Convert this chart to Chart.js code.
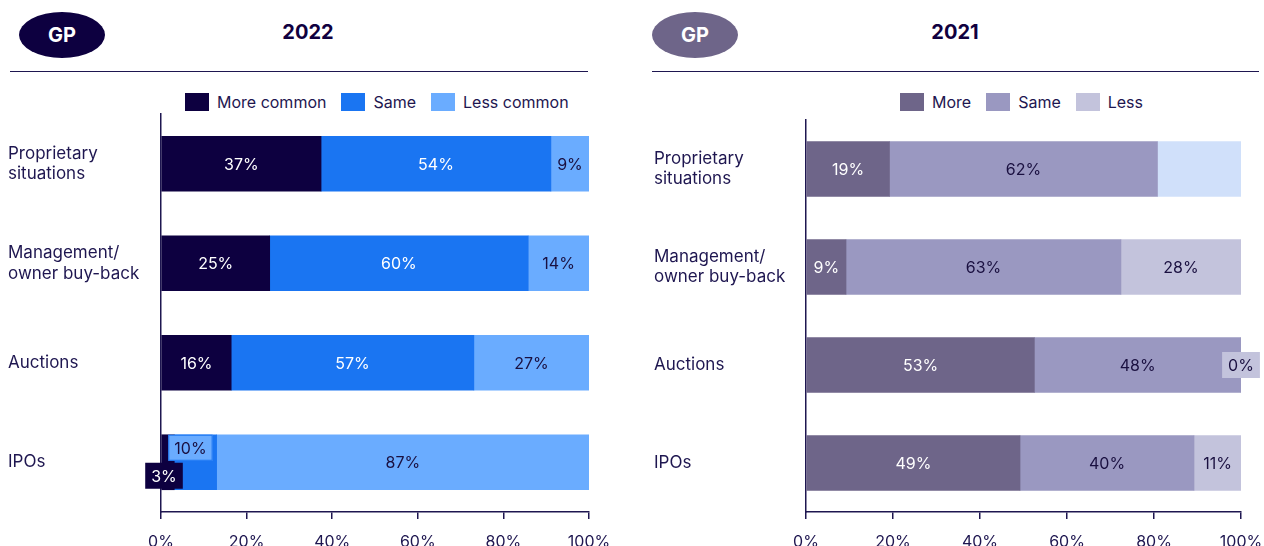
<!DOCTYPE html>
<html>
<head>
<meta charset="utf-8">
<script src="https://cdn.jsdelivr.net/npm/chart.js@4/dist/chart.umd.min.js"></script>
<style>
    body { margin: 0; background: #fff; font-family: Inter, 'Open Sans', sans-serif; color: #1e1650; }
    #page { position: relative; width: 1264px; height: 546px; overflow: hidden; }
    .pill { position: absolute; top: 12px; width: 86px; height: 46px; border-radius: 50%; color: #fff;
            font-weight: 700; font-size: 20px; display: flex; align-items: center; justify-content: center; }
    .title { position: absolute; top: 20px; font-weight: 700; font-size: 20px; color: #10003f; transform: translateX(-50%); }
    .rule { position: absolute; top: 71px; height: 0; border-top: 1.5px solid #1e1650; }
    .legend { position: absolute; top: 92px; display: flex; align-items: center; font-size: 16px; color: #1e1650; }
    .legend span.box { display: inline-block; width: 24px; height: 18px; margin-right: 8px; }
    .legend span.item { display: flex; align-items: center; margin-right: 15px; }
    .chart { position: absolute; top: 0; height: 546px; }
</style>
</head>
<body>
<div id="page">
    <div class="pill" style="left:19px; background:#0d0040;">GP</div>
    <div class="title" style="left:308px;">2022</div>
    <div class="rule" style="left:10px; width:578px;"></div>
    <div class="legend" id="legend-2022" style="left:185px;"></div>
    <div class="chart" style="left:0; width:620px;"><canvas id="chart2022"></canvas></div>

    <div class="pill" style="left:652px; background:#6e6589;">GP</div>
    <div class="title" style="left:955px;">2021</div>
    <div class="rule" style="left:652px; width:607px;"></div>
    <div class="legend" id="legend-2021" style="left:900px;"></div>
    <div class="chart" style="left:640px; width:624px;"><canvas id="chart2021"></canvas></div>
</div>

<script>
// Categories (shared)
const categories = [
    ['Proprietary', 'situations'],
    ['Management/', 'owner buy-back'],
    'Auctions',
    'IPOs'
];
const xTicks = [0, 20, 40, 60, 80, 100];

// 2022 survey (share of respondents, %; labels show rounded values)
const series2022 = ['More common', 'Same', 'Less common'];
const more2022 = [37.4, 25.4, 16.4, 3.1];
const same2022 = [53.7, 60.4, 56.7, 9.9];
const less2022 = [8.9, 14.2, 26.9, 87];

// 2021 survey
const series2021 = ['More', 'Same', 'Less'];
const more2021 = [19.2, 9.2, 52.5, 49.2];
const same2021 = [61.6, 63.2, 47.5, 40.0];
const less2021 = [19.2, 27.6, 0, 10.8];

const NAVY = '#1e1650';
const TEXT_DARK = '#1a1040';

// draws the % labels on the bars, with a few boxed / shifted ones
const barLabels = {
    id: 'barLabels',
    afterDatasetsDraw(chart, args, opts) {
        const ctx = chart.ctx;
        const area = chart.chartArea;
        ctx.save();
        ctx.font = '16px Inter, "Open Sans", sans-serif';
        ctx.textAlign = 'center';
        ctx.textBaseline = 'middle';
        chart.data.datasets.forEach((ds, di) => {
            const meta = chart.getDatasetMeta(di);
            meta.data.forEach((bar, i) => {
                const key = di + ':' + i;
                if (opts.hide && opts.hide.includes(key)) return;
                const text = Math.round(ds.data[i]) + '%';
                let x = (Math.min(bar.x, area.right) + Math.min(bar.base, area.right)) / 2;
                let y = bar.y;
                const sp = opts.special && opts.special[key];
                if (sp) {
                    x += sp.dx || 0;
                    y += sp.dy || 0;
                    const w = ctx.measureText(text).width + 12;
                    const h = 26;
                    ctx.fillStyle = sp.fill;
                    ctx.fillRect(x - w / 2, y - h / 2, w, h);
                    if (sp.stroke) {
                        ctx.strokeStyle = sp.stroke;
                        ctx.lineWidth = 1;
                        ctx.strokeRect(x - w / 2 + 0.5, y - h / 2 + 0.5, w - 1, h - 1);
                    }
                }
                ctx.fillStyle = (sp && sp.color) || opts.colors[di];
                ctx.fillText(text, x, y + 1);
            });
        });
        ctx.restore();
    }
};

function buildLegend(el, names, colors) {
    el.innerHTML = names.map((n, i) =>
        `<span class="item"><span class="box" style="background:${colors[i]}"></span>${n}</span>`
    ).join('');
}

function makeChart(canvasId, names, values, colors, opts) {
    const ctx = document.getElementById(canvasId).getContext('2d');
    return new Chart(ctx, {
        type: 'bar',
        data: {
            labels: categories,
            datasets: names.map((n, i) => ({
                label: n,
                data: values[i],
                backgroundColor: opts.barColors ? opts.barColors[i] : colors[i],
                borderWidth: 0,
                barThickness: 55
            }))
        },
        options: {
            indexAxis: 'y',
            responsive: true,
            maintainAspectRatio: false,
            animation: false,
            layout: { padding: { top: opts.top, left: opts.left, right: opts.right, bottom: 0 } },
            plugins: {
                legend: { display: false },
                tooltip: { enabled: false },
                barLabels: { colors: opts.labelColors, special: opts.special, hide: opts.hide }
            },
            scales: {
                x: {
                    stacked: true,
                    min: 0,
                    max: 100,
                    afterBuildTicks: s => { s.ticks = xTicks.map(v => ({ value: v })); },
                    afterFit: s => { s.height = 34; s.paddingLeft = 0; s.paddingRight = 0; },
                    grid: { drawOnChartArea: false, drawTicks: true, tickLength: 7, color: NAVY, lineWidth: 1.5 },
                    border: { display: true, color: NAVY, width: 1.5 },
                    ticks: {
                        padding: 14,
                        color: NAVY,
                        font: { family: 'Inter', size: 16 },
                        callback: v => v + '%'
                    }
                },
                y: {
                    stacked: true,
                    afterFit: s => { s.width = opts.yWidth; },
                    grid: { display: false },
                    border: { display: true, color: NAVY, width: 1.5 },
                    ticks: {
                        crossAlign: 'far',
                        color: NAVY,
                        font: { family: 'Inter', size: 17, lineHeight: 1.2 }
                    }
                }
            }
        },
        plugins: [barLabels]
    });
}

const colors2022 = ['#0d0040', '#1a75f2', '#6aacff'];
const colors2021 = ['#6e6589', '#9a98c1', '#c3c3dc'];

buildLegend(document.getElementById('legend-2022'), series2022, colors2022);
buildLegend(document.getElementById('legend-2021'), series2021, colors2021);

makeChart('chart2022', series2022, [more2022, same2022, less2022], colors2022, {
    top: 114, left: 8, right: 31, yWidth: 153,
    labelColors: ['#ffffff', '#ffffff', TEXT_DARK],
    special: {
        '0:3': { dx: -4, dy: 13.5, fill: '#0d0040', color: '#ffffff' },
        '1:3': { dx: -5, dy: -14.5, fill: '#6aacff', stroke: '#1a75f2', color: TEXT_DARK }
    }
});

makeChart('chart2021', series2021, [more2021, same2021, less2021], colors2021, {
    top: 120, left: 14, right: 23, yWidth: 152,
    barColors: [colors2021[0], colors2021[1], ['#d0e0fa', colors2021[2], colors2021[2], colors2021[2]]],
    labelColors: ['#ffffff', TEXT_DARK, TEXT_DARK],
    hide: ['2:0'],
    special: {
        '2:2': { dx: 0, dy: 0, fill: '#c3c3dc', color: TEXT_DARK }
    }
});
</script>
</body>
</html>
